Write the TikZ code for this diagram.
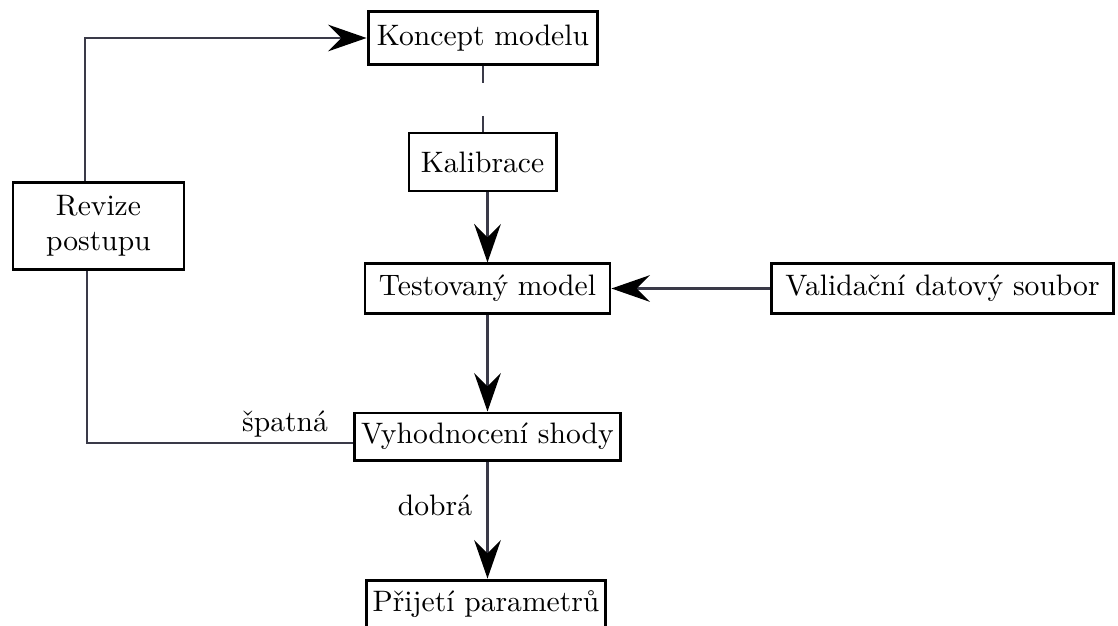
\documentclass[tikz,border=0pt]{standalone}
\usetikzlibrary{arrows.meta}
\definecolor{linegrey}{HTML}{3A3A48}
\begin{document}
\begin{tikzpicture}[x=0.338pt,y=-0.338pt,
  box/.style={draw=black,line width=1pt,fill=white,inner sep=0pt,
    minimum width=#1,align=center,font=\fontsize{10}{12}\selectfont},
  conn/.style={draw=linegrey,line width=1pt},
  tip/.style={-{Stealth[length=13pt,width=9pt,inset=4.5pt,color=black]}},
  lbl/.style={inner sep=0pt,font=\fontsize{10}{12}\selectfont}]
\useasboundingbox (0,0) rectangle (1118,625);
\clip (0,0) rectangle (1118,625);

% boxes of the procedure
\node[box=77.7pt,minimum height=17.6pt] (koncept) at (483,38) {Koncept modelu};
\node[box=49.7pt,minimum height=19.6pt] (kalib) at (482.5,162) {Kalibrace};
\node[box=82.8pt,minimum height=16.6pt] (test) at (487.5,288.5) {Testovaný model};
\node[box=115.3pt,minimum height=17.2pt] (valid) at (942.5,288.5) {Validační datový soubor};
\node[box=89.6pt,minimum height=15.9pt] (vyh) at (487.5,436.5) {Vyhodnocení shody};
\node[box=81.1pt,minimum height=16.2pt] (prij) at (486,604) {Přijetí parametrů};
\node[box=57.8pt,minimum height=29.1pt] (revize) at (98.5,226) {Revize\\postupu};

% edge labels
\node[lbl] (spatna) at (285,424) {špatná};
\node[lbl] (dobra) at (435,505) {dobrá};

% connectors
\draw[conn,dash pattern=on 5.8pt off 11.2pt on 7pt] (koncept.south) -- (koncept.south |- kalib.north);
\draw[conn,tip] (test.north |- kalib.south) -- (test.north);
\draw[conn,tip] (valid.west) -- (test.east);
\draw[conn,tip] (test.south) -- (test.south |- vyh.north);
\draw[conn,tip] (vyh.south) -- (vyh.south |- prij.north);
\draw[conn,tip] (revize.north -| 85,0) |- (koncept.west);
\draw[conn] (vyh.west |- 0,443) -| (revize.south -| 87,0);
\end{tikzpicture}
\end{document}
